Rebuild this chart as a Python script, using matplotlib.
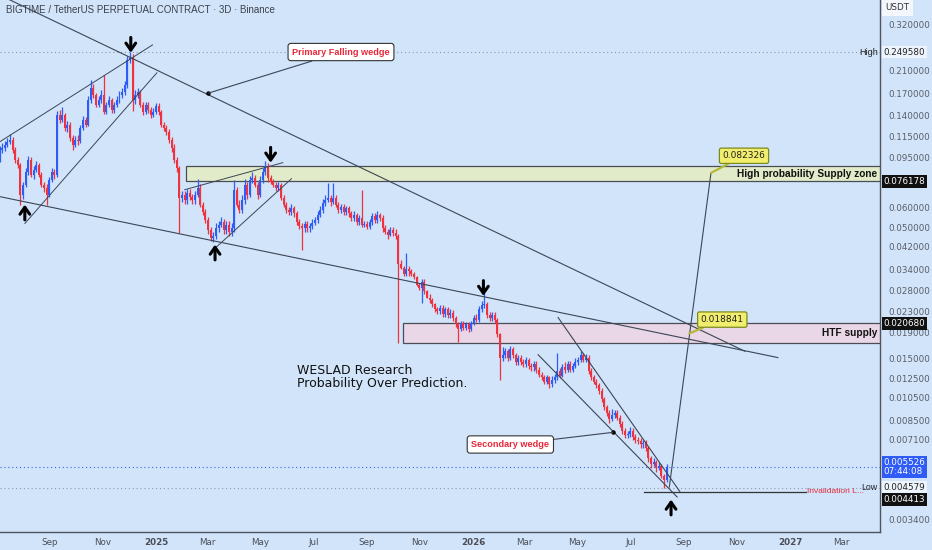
import matplotlib
matplotlib.use('Agg')
import matplotlib.pyplot as plt
import matplotlib.dates as mdates
from matplotlib.patches import Rectangle
from matplotlib.transforms import blended_transform_factory
from matplotlib.ticker import NullLocator
import pandas as pd
import numpy as np

# ---------------- data ----------------
start_date = '2024-06-29'          # first 3D candle
first_open = 0.0900
closes = [0.0847, 0.0928, 0.1018, 0.1036, 0.1065, 0.1094, 0.1115, 0.1018, 0.0928, 0.0887,
          0.0674, 0.0738, 0.0832, 0.0928, 0.0809, 0.0847, 0.0887, 0.0809, 0.0738, 0.0718,
          0.0674, 0.0773, 0.0832, 0.0809, 0.1403, 0.1340, 0.1403, 0.1245, 0.1280, 0.1136,
          0.1065, 0.1115, 0.1100, 0.1245, 0.1340, 0.1280, 0.1609, 0.1797, 0.1685, 0.1537,
          0.1609, 0.1685, 0.1441, 0.1537, 0.1609, 0.1468, 0.1537, 0.1609, 0.1685, 0.1730,
          0.1847, 0.2322, 0.2365, 0.1609, 0.1685, 0.1730, 0.1537, 0.1441, 0.1537, 0.1468,
          0.1403, 0.1441, 0.1523, 0.1441, 0.1280, 0.1245, 0.1200, 0.1115, 0.1036, 0.0928,
          0.0863, 0.0655, 0.0674, 0.0643, 0.0686, 0.0662, 0.0643, 0.0674, 0.0718, 0.0615,
          0.0576, 0.0536, 0.0489, 0.0454, 0.0463, 0.0498, 0.0512, 0.0526, 0.0489, 0.0512,
          0.0480, 0.0498, 0.0705, 0.0615, 0.0587, 0.0643, 0.0738, 0.0674, 0.0773, 0.0787,
          0.0738, 0.0674, 0.0773, 0.0832, 0.0879, 0.0787, 0.0759, 0.0738, 0.0718, 0.0738,
          0.0655, 0.0615, 0.0587, 0.0576, 0.0597, 0.0571, 0.0526, 0.0507, 0.0498, 0.0517,
          0.0498, 0.0507, 0.0521, 0.0536, 0.0561, 0.0587, 0.0626, 0.0643, 0.0655, 0.0632,
          0.0655, 0.0615, 0.0587, 0.0604, 0.0576, 0.0597, 0.0571, 0.0546, 0.0561, 0.0526,
          0.0546, 0.0512, 0.0517, 0.0503, 0.0526, 0.0556, 0.0536, 0.0561, 0.0546, 0.0498,
          0.0480, 0.0467, 0.0489, 0.0476, 0.0463, 0.0355, 0.0345, 0.0324, 0.0339, 0.0333,
          0.0324, 0.0315, 0.0295, 0.0287, 0.0301, 0.0277, 0.0262, 0.0257, 0.0246, 0.0235,
          0.0231, 0.0239, 0.0226, 0.0235, 0.0224, 0.0228, 0.0218, 0.0205, 0.0196, 0.0207,
          0.0199, 0.0205, 0.0196, 0.0207, 0.0218, 0.0214, 0.0235, 0.0244, 0.0246, 0.0224,
          0.0218, 0.0224, 0.0214, 0.0187, 0.0151, 0.0155, 0.0160, 0.0151, 0.0163, 0.0154,
          0.0145, 0.0151, 0.0145, 0.0142, 0.0148, 0.0140, 0.0138, 0.0143, 0.0135, 0.0129,
          0.0126, 0.0121, 0.0126, 0.0118, 0.0123, 0.0126, 0.0133, 0.0128, 0.0138, 0.0135,
          0.0142, 0.0135, 0.0140, 0.0145, 0.0148, 0.0154, 0.0148, 0.0151, 0.0133, 0.0126,
          0.0121, 0.0117, 0.0111, 0.0103, 0.0096, 0.0091, 0.0086, 0.0089, 0.0091, 0.0087,
          0.0082, 0.0077, 0.0074, 0.0075, 0.0077, 0.0073, 0.0071, 0.0070, 0.0068, 0.0069,
          0.0066, 0.0060, 0.0057, 0.0058, 0.0055, 0.0056, 0.0051, 0.0049, 0.005526]
highs = [0.094, 0.096, 0.105, 0.108, 0.110, 0.113, 0.118, 0.114, 0.104, 0.095,
         0.090, 0.076, 0.086, 0.096, 0.095, 0.088, 0.092, 0.090, 0.083, 0.076,
         0.074, 0.079, 0.086, 0.085, 0.145, 0.146, 0.150, 0.143, 0.133, 0.131,
         0.117, 0.115, 0.116, 0.128, 0.139, 0.138, 0.166, 0.193, 0.186, 0.172,
         0.166, 0.176, 0.2024, 0.158, 0.166, 0.164, 0.158, 0.166, 0.174, 0.179,
         0.192, 0.240, 0.24958, 0.245, 0.176, 0.180, 0.176, 0.158, 0.158, 0.158,
         0.150, 0.149, 0.157, 0.156, 0.147, 0.131, 0.128, 0.123, 0.114, 0.107,
         0.095, 0.088, 0.070, 0.070, 0.071, 0.071, 0.068, 0.070, 0.078, 0.074,
         0.063, 0.059, 0.055, 0.050, 0.048, 0.052, 0.053, 0.055, 0.054, 0.053,
         0.053, 0.052, 0.0773, 0.072, 0.064, 0.067, 0.078, 0.076, 0.080, 0.083,
         0.081, 0.076, 0.080, 0.086, 0.092, 0.090, 0.081, 0.078, 0.076, 0.076,
         0.075, 0.067, 0.063, 0.060, 0.062, 0.061, 0.058, 0.054, 0.052, 0.053,
         0.053, 0.052, 0.054, 0.055, 0.058, 0.061, 0.065, 0.067, 0.0752, 0.067,
         0.0752, 0.067, 0.063, 0.062, 0.062, 0.061, 0.061, 0.058, 0.058, 0.057,
         0.056, 0.0705, 0.053, 0.053, 0.054, 0.057, 0.057, 0.058, 0.057, 0.056,
         0.051, 0.049, 0.050, 0.050, 0.049, 0.047, 0.037, 0.035, 0.0393, 0.035,
         0.034, 0.033, 0.032, 0.030, 0.031, 0.031, 0.028, 0.027, 0.026, 0.025,
         0.024, 0.0245, 0.0245, 0.024, 0.024, 0.0235, 0.0234, 0.0222, 0.0210, 0.0212,
         0.0212, 0.0210, 0.0210, 0.0212, 0.0224, 0.0225, 0.0242, 0.0255, 0.0274, 0.0252,
         0.0230, 0.0230, 0.0230, 0.0218, 0.0190, 0.0167, 0.0165, 0.0164, 0.0168, 0.0166,
         0.0158, 0.0155, 0.0155, 0.0149, 0.0152, 0.0151, 0.0144, 0.0147, 0.0146, 0.0138,
         0.0132, 0.0129, 0.0129, 0.0128, 0.0127, 0.0130, 0.0157, 0.0137, 0.0142, 0.0145,
         0.0146, 0.0146, 0.0144, 0.0150, 0.0152, 0.0160, 0.0158, 0.0156, 0.0154, 0.0137,
         0.0129, 0.0124, 0.0120, 0.0114, 0.0105, 0.0098, 0.0093, 0.0094, 0.0093, 0.0093,
         0.0089, 0.0084, 0.0079, 0.0077, 0.0080, 0.0079, 0.0075, 0.0073, 0.0072, 0.0071,
         0.0071, 0.0067, 0.0061, 0.0060, 0.0059, 0.0058, 0.0057, 0.0052, 0.0057]
lows = [0.081, 0.083, 0.091, 0.099, 0.101, 0.104, 0.107, 0.099, 0.090, 0.086,
        0.0615, 0.065, 0.072, 0.081, 0.079, 0.078, 0.083, 0.079, 0.072, 0.069,
        0.0615, 0.066, 0.076, 0.078, 0.079, 0.130, 0.131, 0.121, 0.120, 0.110,
        0.102, 0.104, 0.106, 0.108, 0.122, 0.125, 0.126, 0.157, 0.164, 0.150,
        0.150, 0.157, 0.141, 0.141, 0.150, 0.143, 0.143, 0.150, 0.157, 0.164,
        0.169, 0.180, 0.225, 0.145, 0.155, 0.164, 0.150, 0.140, 0.141, 0.143,
        0.136, 0.137, 0.141, 0.140, 0.125, 0.121, 0.116, 0.108, 0.100, 0.090,
        0.083, 0.0475, 0.063, 0.062, 0.062, 0.064, 0.062, 0.062, 0.066, 0.060,
        0.056, 0.052, 0.047, 0.0440, 0.0435, 0.045, 0.048, 0.050, 0.047, 0.047,
        0.046, 0.046, 0.048, 0.060, 0.057, 0.057, 0.062, 0.065, 0.066, 0.075,
        0.072, 0.065, 0.066, 0.075, 0.081, 0.076, 0.074, 0.072, 0.070, 0.070,
        0.064, 0.060, 0.057, 0.056, 0.056, 0.055, 0.051, 0.049, 0.0407, 0.048,
        0.048, 0.048, 0.049, 0.051, 0.052, 0.055, 0.057, 0.061, 0.063, 0.061,
        0.062, 0.060, 0.057, 0.057, 0.056, 0.056, 0.055, 0.053, 0.053, 0.051,
        0.051, 0.050, 0.050, 0.049, 0.049, 0.051, 0.052, 0.052, 0.053, 0.048,
        0.047, 0.045, 0.046, 0.046, 0.045, 0.0173, 0.034, 0.032, 0.032, 0.032,
        0.032, 0.031, 0.029, 0.028, 0.025, 0.027, 0.026, 0.025, 0.024, 0.023,
        0.0225, 0.0225, 0.022, 0.022, 0.0218, 0.0218, 0.0212, 0.0200, 0.0175, 0.0192,
        0.0194, 0.0195, 0.0191, 0.0192, 0.0203, 0.0209, 0.0210, 0.0230, 0.0238, 0.0218,
        0.0212, 0.0212, 0.0208, 0.0182, 0.0123, 0.0147, 0.0151, 0.0147, 0.0148, 0.0150,
        0.0141, 0.0141, 0.0141, 0.0138, 0.0139, 0.0136, 0.0134, 0.0134, 0.0131, 0.0126,
        0.0123, 0.0118, 0.0118, 0.0114, 0.0115, 0.0120, 0.0123, 0.0125, 0.0126, 0.0131,
        0.0132, 0.0132, 0.0132, 0.0137, 0.0141, 0.0145, 0.0145, 0.0145, 0.0130, 0.0123,
        0.0118, 0.0114, 0.0108, 0.0100, 0.0093, 0.0088, 0.0083, 0.0084, 0.0087, 0.0085,
        0.0080, 0.0075, 0.0072, 0.0072, 0.0073, 0.0071, 0.0069, 0.0068, 0.0066, 0.0066,
        0.0064, 0.0058, 0.0055, 0.0056, 0.0053, 0.0054, 0.0050, 0.004579, 0.0048]

# axis tick values and labels
y_ticks = [0.32, 0.21, 0.17, 0.14, 0.115, 0.095, 0.06, 0.05, 0.042, 0.034,
           0.028, 0.023, 0.019, 0.015, 0.0125, 0.0105, 0.0085, 0.0071, 0.0034]
x_tick_dates = ['2024-09-01', '2024-11-01', '2025-01-01', '2025-03-01', '2025-05-01',
                '2025-07-01', '2025-09-01', '2025-11-01', '2026-01-01', '2026-03-01',
                '2026-05-01', '2026-07-01', '2026-09-01', '2026-11-01', '2027-01-01',
                '2027-03-01']
x_tick_labels = ['Sep', 'Nov', '2025', 'Mar', 'May', 'Jul', 'Sep', 'Nov', '2026', 'Mar',
                 'May', 'Jul', 'Sep', 'Nov', '2027', 'Mar']

# key price levels
high_price = 0.249580
low_price = 0.004579
last_price = 0.005526
invalid_price = 0.004413
supply_zone = ('2025-02-05', 0.076178, 0.0879)   # start, bottom, top
htf_zone = ('2025-10-12', 0.0172, 0.020680)
target_1 = 0.082326
target_2 = 0.018841

# drawing anchors (date, price)
primary_upper = [('2024-07-05', 0.4213), ('2026-11-10', 0.0160)]
primary_lower = [('2024-07-05', 0.0662), ('2026-12-18', 0.0151)]
channel1_upper = [('2024-07-05', 0.1094), ('2024-12-28', 0.2664)]
channel1_lower = [('2024-08-03', 0.0517), ('2025-01-02', 0.2062)]
channel2_upper = [('2025-02-03', 0.0705), ('2025-05-27', 0.0904)]
channel2_lower = [('2025-03-12', 0.0418), ('2025-06-06', 0.0780)]
secondary_upper = [('2026-04-09', 0.0218), ('2026-08-27', 0.00442)]
secondary_lower = [('2026-03-17', 0.0155), ('2026-08-24', 0.0042)]
projection = [('2026-08-15', 0.0046), ('2026-10-02', target_1)]
invalid_span = ('2026-07-17', '2027-01-19')
down_arrows = [('2024-12-03', 0.248), ('2025-05-13', 0.0904), ('2026-01-13', 0.0266)]
up_arrows = [('2024-08-03', 0.0615), ('2025-03-10', 0.0426), ('2026-08-17', 0.0041)]

# ---------------- style ----------------
BG = '#d1e4fa'
UP = '#2d5cf7'
DN = '#f0323f'
LINE = '#3b4656'
AXC = '#50535e'
NARROW = ['Liberation Sans', 'DejaVu Sans']

def D(s):
    return mdates.date2num(pd.Timestamp(s))

fig = plt.figure(figsize=(9.32, 5.5), dpi=100)
fig.patch.set_facecolor(BG)
ax = fig.add_axes([0, 18 / 550, 880 / 932, 532 / 550])
ax.set_facecolor(BG)
ax.set_yscale('log')
ax.set_ylim(0.003045, 0.4024)
ax.set_xlim(D('2024-07-05 10:00'), D('2027-04-14 14:00'))

# candles
dates = pd.date_range(start_date, periods=len(closes), freq='3D')
x = mdates.date2num(dates)
opens = [first_open] + closes[:-1]
o = np.array(opens); c = np.array(closes)
cols = [UP if cc >= oo else DN for oo, cc in zip(o, c)]
ax.vlines(x, lows, highs, colors=cols, lw=0.9, zorder=3)
ax.bar(x, np.abs(c - o), bottom=np.minimum(o, c), width=2.3, color=cols, zorder=3,
       linewidth=0)

# zones
xend = ax.get_xlim()[1]
ax.add_patch(Rectangle((D(supply_zone[0]), supply_zone[1]), xend - D(supply_zone[0]) + 5,
                       supply_zone[2] - supply_zone[1], facecolor='#e1ebc9',
                       edgecolor='#4a4d55', lw=0.9, zorder=2))
ax.add_patch(Rectangle((D(htf_zone[0]), htf_zone[1]), xend - D(htf_zone[0]) + 5,
                       htf_zone[2] - htf_zone[1], facecolor='#e9d6e7',
                       edgecolor='#4a4d55', lw=0.9, zorder=2))
tb = blended_transform_factory(ax.transAxes, ax.transData)
ax.text(0.9965, np.sqrt(supply_zone[1] * supply_zone[2]), 'High probability Supply zone',
        transform=tb, ha='right', va='center', fontsize=7.3, fontweight='bold',
        family=NARROW, color='#111', zorder=6)
ax.text(0.9965, np.sqrt(htf_zone[1] * htf_zone[2]), 'HTF supply',
        transform=tb, ha='right', va='center', fontsize=7.3, fontweight='bold',
        family=NARROW, color='#111', zorder=6)

# trend lines
for ln, lw in ((primary_upper, 0.8), (primary_lower, 0.8), (channel1_upper, 0.7),
               (channel1_lower, 0.7), (channel2_upper, 0.7), (channel2_lower, 0.7),
               (secondary_upper, 0.8), (secondary_lower, 0.8), (projection, 0.8)):
    ax.plot([D(p[0]) for p in ln], [p[1] for p in ln], color=LINE, lw=lw, zorder=4)

# dotted level lines
ax.axhline(high_price, color='#8d99aa', lw=0.8, ls=(0, (1, 2.5)), zorder=1)
ax.axhline(last_price, color='#3a62ee', lw=0.8, ls=(0, (1, 2.5)), zorder=1)
ax.axhline(low_price, color='#8d99aa', lw=0.8, ls=(0, (1, 2.5)), zorder=1)

# invalidation line
ax.plot([D(invalid_span[0]), D(invalid_span[1])], [invalid_price] * 2, color='#333',
        lw=0.9, zorder=4)
ax.text(0.9175, invalid_price, 'Invalidation L...', transform=tb, ha='left', va='center',
        fontsize=6.0, family=NARROW, color='#e8283a', zorder=6)
ax.text(0.9975, low_price, 'Low', transform=tb, ha='right', va='center',
        fontsize=6.3, family=NARROW, color='#222', zorder=7)
ax.text(0.9975, high_price, 'High', transform=tb, ha='right', va='center', fontsize=6.5,
        family=NARROW, color='#222', zorder=7)

# arrows
for d, p in down_arrows:
    ax.annotate('', xy=(D(d), p), xytext=(0, 11), textcoords='offset points',
                arrowprops=dict(arrowstyle='->,head_length=0.5,head_width=0.35',
                                lw=2.2, color='black', shrinkA=0, shrinkB=0), zorder=6)
for d, p in up_arrows:
    ax.annotate('', xy=(D(d), p), xytext=(0, -11), textcoords='offset points',
                arrowprops=dict(arrowstyle='->,head_length=0.5,head_width=0.35',
                                lw=2.2, color='black', shrinkA=0, shrinkB=0), zorder=6)

# callouts
dot1 = ('2025-03-02', 0.171)
dot2 = ('2026-06-11', 0.0076)
ax.plot([D(dot1[0]), D(dot2[0])], [dot1[1], dot2[1]], 'o', ms=2.2, color='black', zorder=6)
ax.annotate('Primary Falling wedge', xy=(D(dot1[0]), dot1[1]),
            xytext=(D('2025-08-02'), high_price), ha='center', va='center',
            fontsize=6.6, fontweight='bold', family=NARROW, color='#e8283a', zorder=7,
            bbox=dict(boxstyle='round,pad=0.45,rounding_size=0.3', fc='white', ec='#333', lw=0.8),
            arrowprops=dict(arrowstyle='-', color=LINE, lw=0.8, shrinkA=0, shrinkB=0))
ax.annotate('Secondary wedge', xy=(D(dot2[0]), dot2[1]),
            xytext=(D('2026-02-13'), 0.0068), ha='center', va='center',
            fontsize=6.6, fontweight='bold', family=NARROW, color='#e8283a', zorder=7,
            bbox=dict(boxstyle='round,pad=0.45,rounding_size=0.3', fc='white', ec='#333', lw=0.8),
            arrowprops=dict(arrowstyle='-', color=LINE, lw=0.8, shrinkA=0, shrinkB=0))
ax.annotate(f'{target_1:.6f}', xy=(D(projection[1][0]), target_1),
            xytext=(D('2026-11-09'), 0.0963), ha='center', va='center',
            fontsize=6.5, color='#222', zorder=7,
            bbox=dict(boxstyle='round,pad=0.35,rounding_size=0.2', fc='#f1ee6e', ec='#7d8a1e', lw=0.9),
            arrowprops=dict(arrowstyle='-', color='#b6b83a', lw=1.6, shrinkA=0, shrinkB=0))
ax.annotate(f'{target_2:.6f}', xy=(D('2026-09-07'), target_2),
            xytext=(D('2026-10-15'), 0.0214), ha='center', va='center',
            fontsize=6.5, color='#222', zorder=7,
            bbox=dict(boxstyle='round,pad=0.35,rounding_size=0.2', fc='#f1ee6e', ec='#7d8a1e', lw=0.9),
            arrowprops=dict(arrowstyle='-', color='#b6b83a', lw=1.6, shrinkA=0, shrinkB=0))

# watermark text
ax.text(D('2025-06-12'), 0.0126, 'WESLAD Research\nProbability Over Prediction.',
        ha='left', va='center', fontsize=9.0, color='#111', linespacing=1.0,
        family='DejaVu Sans', zorder=6)

# axes styling
for s in ('top', 'left'):
    ax.spines[s].set_visible(False)
ax.spines['right'].set_color(AXC)
ax.spines['bottom'].set_color(AXC)
ax.spines['right'].set_linewidth(1.0)
ax.spines['bottom'].set_linewidth(1.0)
ax.yaxis.tick_right()
ax.yaxis.set_minor_locator(NullLocator())
ax.set_yticks(y_ticks)
ax.set_yticklabels([f'{v:.6f}' for v in y_ticks])
ax.tick_params(axis='y', length=0, pad=6, labelsize=6.3, colors='#5a5e68')
ax.set_xticks([D(d) for d in x_tick_dates])
ax.set_xticklabels(x_tick_labels)
ax.tick_params(axis='x', length=0, pad=4, labelsize=6.3, colors='#4a4e58')
for t in ax.get_xticklabels():
    if t.get_text().isdigit():
        t.set_fontweight('bold')

# price tags on the right axis
def tag(price, text, fc, tc, dy=0):
    ax.annotate(text, xy=(1.0, price), xycoords=tb, xytext=(2.5, dy),
                textcoords='offset points', ha='left', va='center', fontsize=6.3,
                color=tc, zorder=10, annotation_clip=False, linespacing=1.1,
                bbox=dict(boxstyle='square,pad=0.22', fc=fc, ec='none'))

tag(high_price, f'{high_price:.6f}', '#eef4fc', '#222')
tag(supply_zone[1], f'{supply_zone[1]:.6f}', '#111', 'white')
tag(htf_zone[2], f'{htf_zone[2]:.6f}', '#111', 'white')
tag(last_price, f'{last_price:.6f}\n07:44:08', '#2f5cf6', 'white')
tag(low_price, f'{low_price:.6f}', '#eef4fc', '#222')
tag(invalid_price, f'{invalid_price:.6f}', '#111', 'white', dy=-6)
ax.text(1.006, 0.985, 'USDT', transform=ax.transAxes, ha='left', va='center',
        fontsize=6.3, color='#333', zorder=10,
        bbox=dict(boxstyle='square,pad=0.4', fc='#f3f7fd', ec='none'))

fig.text(6 / 932, 1 - 10 / 550, 'BIGTIME / TetherUS PERPETUAL CONTRACT · 3D · Binance',
         fontsize=7.0, family=NARROW, color='#3c414c', va='center', ha='left')

fig.savefig('out.png', dpi=100, facecolor=BG)
